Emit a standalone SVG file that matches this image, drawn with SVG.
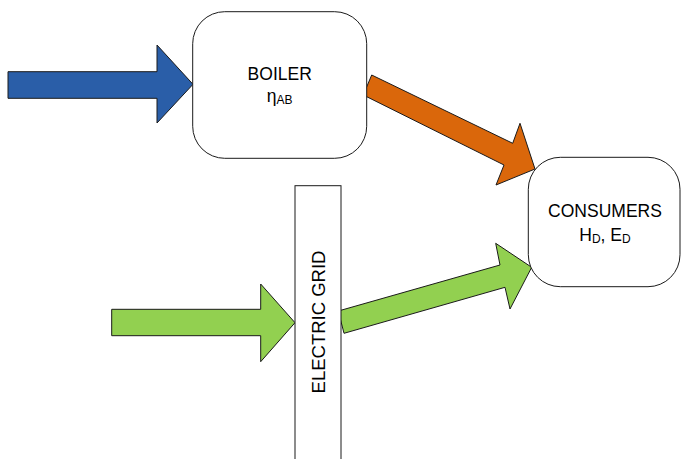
<svg xmlns="http://www.w3.org/2000/svg" width="681" height="459" viewBox="0 0 681 459">
  <style>
    .box { fill: #ffffff; stroke: #1a1a1a; stroke-width: 1; }
    .arrow { stroke: #1a1a1a; stroke-width: 1; stroke-linejoin: miter; }
    .label { font-family: "Liberation Sans", Arial, sans-serif; font-size: 17.5px; fill: #000000; text-anchor: middle; }
    .sub { font-size: 12px; }
  </style>
  <rect width="681" height="459" fill="#ffffff"/>

  <!-- flows between elements -->
  <g id="connectors">
    <!-- fuel into boiler -->
    <polygon class="arrow" fill="#2A5EA8" points="8,71.7 157,71.7 157,45 193,84.3 157,123 157,98.3 8,98.3"/>
    <!-- heat from boiler to consumers -->
    <polygon class="arrow" fill="#DA670B" points="371.7,75 512.7,143.3 520,123.3 535,169 496,185 504,165 363.3,95"/>
    <!-- electricity into grid -->
    <polygon class="arrow" fill="#92D050" points="111.7,309.3 260.7,309.3 260.7,284 295,322.7 260.7,361.7 260.7,335.7 111.7,335.7"/>
    <!-- electricity from grid to consumers -->
    <polygon class="arrow" fill="#92D050" points="338.3,311 500,265 495.7,243.3 531.7,267.3 510,309 505,287.3 344,333.3"/>
  </g>

  <g id="boiler">
    <rect class="box" x="192.7" y="11.7" width="174" height="146.6" rx="32" ry="32"/>
    <text class="label" x="279.7" y="79.5">BOILER</text>
    <text class="label" x="279.7" y="102">η<tspan class="sub" dy="2">AB</tspan></text>
  </g>

  <g id="consumers">
    <rect class="box" x="528.3" y="157.3" width="151.7" height="129.4" rx="32" ry="32"/>
    <text class="label" x="605" y="217">CONSUMERS</text>
    <text class="label" x="605" y="241">H<tspan class="sub" dy="2">D</tspan><tspan dy="-2">, E</tspan><tspan class="sub" dy="2">D</tspan></text>
  </g>

  <g id="electric-grid">
    <rect class="box" x="295" y="185.7" width="46" height="290"/>
    <text class="label" style="font-size:18.5px" transform="translate(324.5,322) rotate(-90)" x="0" y="0">ELECTRIC GRID</text>
  </g>
</svg>
